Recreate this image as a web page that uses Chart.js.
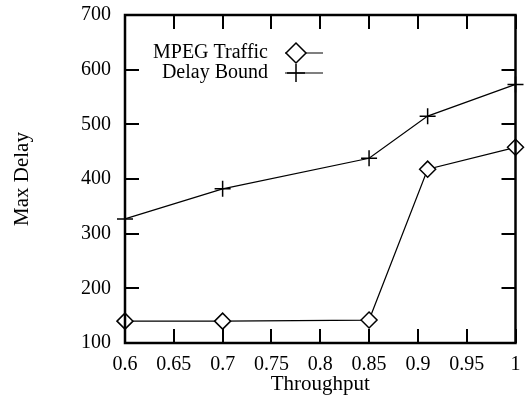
<!DOCTYPE html>
<html>
<head>
<meta charset="utf-8">
<script src="https://cdn.jsdelivr.net/npm/chart.js@4/dist/chart.umd.min.js"></script>
<style>
html,body{margin:0;padding:0;background:#fff;}
</style>
</head>
<body>
<canvas id="c" width="525" height="397"></canvas>
<script>
const throughput = [0.6, 0.7, 0.85, 0.91, 1.0];
const mpegTraffic = [140, 140, 142, 418, 458];
const delayBound = [327, 382, 438, 515, 573];
const xTickValues = [0.6, 0.65, 0.7, 0.75, 0.8, 0.85, 0.9, 0.95, 1.0];
const xTickLabels = ['0.6', '0.65', '0.7', '0.75', '0.8', '0.85', '0.9', '0.95', '1'];
const yTickValues = [100, 200, 300, 400, 500, 600, 700];
const seriesNames = ['MPEG Traffic', 'Delay Bound'];

const FONT = '"Liberation Serif", "Times New Roman", serif';

const inwardGrid = {display: true, drawOnChartArea: false, drawTicks: true, tickLength: -14, tickWidth: 2, tickColor: '#000', color: '#000', lineWidth: 2};

const framePlugin = {
  id: 'frame',
  afterDraw(chart) {
    const ctx = chart.ctx;
    const a = chart.chartArea;
    const xs = chart.scales.x;
    const ys = chart.scales.y;
    const tl = 14;
    ctx.save();
    ctx.fillStyle = '#000';
    for (let i = 0; i < xTickValues.length; i++) {
      const px = Math.round(xs.getPixelForValue(xTickValues[i]));
      ctx.fillRect(px - 1, Math.round(a.bottom) - tl, 2, tl);
      ctx.fillRect(px - 1, Math.round(a.top), 2, tl);
    }
    for (let i = 0; i < yTickValues.length; i++) {
      const py = Math.round(ys.getPixelForValue(yTickValues[i]));
      ctx.fillRect(Math.round(a.left), py - 1, tl, 2);
      ctx.fillRect(Math.round(a.right) - tl, py - 1, tl, 2);
    }
    ctx.strokeStyle = '#000';
    ctx.lineWidth = 2.5;
    ctx.strokeRect(a.left, a.top, a.right - a.left, a.bottom - a.top);

    ctx.font = '20px ' + FONT;
    ctx.textAlign = 'right';
    ctx.textBaseline = 'middle';
    const rows = [
      {y: 53, style: 'rectRot', r: 10},
      {y: 73, style: 'cross', r: 9}
    ];
    rows.forEach((row, i) => {
      ctx.fillStyle = '#000';
      ctx.fillText(seriesNames[i], 268, row.y);
      ctx.strokeStyle = '#000';
      ctx.lineWidth = 1.2;
      ctx.beginPath();
      ctx.moveTo(285, row.y);
      ctx.lineTo(323, row.y);
      ctx.stroke();
      ctx.fillStyle = '#fff';
      ctx.lineWidth = 1.5;
      Chart.helpers.drawPoint(ctx, {pointStyle: row.style, radius: row.r, rotation: 0, borderWidth: 1.5}, 296, row.y);
    });
    ctx.restore();
  }
};

new Chart(document.getElementById('c'), {
  type: 'line',
  data: {
    datasets: [
      {
        label: seriesNames[0],
        data: throughput.map((x, i) => ({x: x, y: mpegTraffic[i]})),
        borderColor: '#000',
        borderWidth: 1.2,
        pointStyle: 'rectRot',
        pointRadius: 8,
        pointBorderWidth: 1.5,
        pointBackgroundColor: '#fff',
        pointBorderColor: '#000',
        tension: 0,
        clip: false
      },
      {
        label: seriesNames[1],
        data: throughput.map((x, i) => ({x: x, y: delayBound[i]})),
        borderColor: '#000',
        borderWidth: 1.2,
        pointStyle: 'cross',
        pointRadius: 8,
        pointBorderWidth: 1.5,
        pointBorderColor: '#000',
        tension: 0,
        clip: false
      }
    ]
  },
  options: {
    responsive: false,
    animation: false,
    devicePixelRatio: 1,
    layout: {padding: {top: 15, right: 0, left: 0, bottom: 0}},
    plugins: {legend: {display: false}, tooltip: {enabled: false}},
    scales: {
      x: {
        type: 'linear',
        position: 'bottom',
        min: 0.6, max: 1.0,
        afterBuildTicks: s => { s.ticks = xTickValues.map(v => ({value: v})); },
        afterFit: s => { s.height = 54; s.paddingLeft = 0; s.paddingRight = 0; },
        grid: inwardGrid,
        border: {display: false},
        ticks: {
          color: '#000', font: {family: FONT, size: 20}, padding: 24,
          maxRotation: 0, autoSkip: false,
          callback: (v) => { const i = xTickValues.findIndex(t => Math.abs(t - v) < 1e-9); return i >= 0 ? xTickLabels[i] : ''; }
        },
        title: {display: true, text: 'Throughput', color: '#000', font: {family: FONT, size: 21}, padding: {top: -2, bottom: 0}}
      },
      x2: {
        type: 'linear',
        position: 'top',
        min: 0.6, max: 1.0,
        afterBuildTicks: s => { s.ticks = xTickValues.map(v => ({value: v})); },
        afterFit: s => { s.height = 0; s.paddingLeft = 0; s.paddingRight = 0; },
        grid: inwardGrid,
        border: {display: false},
        ticks: {display: false}
      },
      y: {
        type: 'linear',
        position: 'left',
        min: 100, max: 700,
        afterBuildTicks: s => { s.ticks = yTickValues.map(v => ({value: v})); },
        afterFit: s => { s.width = 125; s.paddingTop = 0; s.paddingBottom = 0; },
        grid: inwardGrid,
        border: {display: false},
        ticks: {color: '#000', font: {family: FONT, size: 20}, padding: 28},
        title: {display: true, text: 'Max Delay', color: '#000', font: {family: FONT, size: 21}, padding: {top: 10, bottom: 0}}
      },
      y2: {
        type: 'linear',
        position: 'right',
        min: 100, max: 700,
        afterBuildTicks: s => { s.ticks = yTickValues.map(v => ({value: v})); },
        afterFit: s => { s.width = 5; s.paddingTop = 0; s.paddingBottom = 0; },
        grid: inwardGrid,
        border: {display: false},
        ticks: {display: false}
      }
    }
  },
  plugins: [framePlugin]
});
</script>
</body>
</html>
